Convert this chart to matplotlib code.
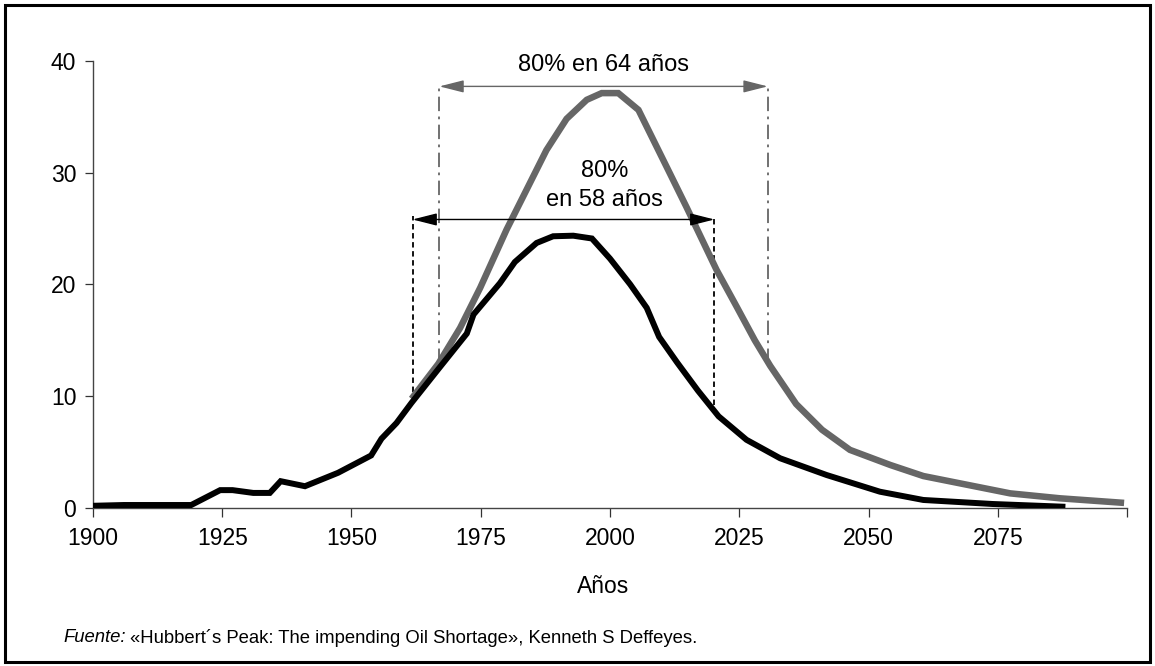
import matplotlib
matplotlib.use("Agg")
import matplotlib.pyplot as plt
from matplotlib.patches import Rectangle, ArrowStyle

plt.rcParams['font.family'] = ['Liberation Sans', 'DejaVu Sans']

# curva negra (datos reales / previsión)
years_black = [1900, 1906, 1919, 1924.6, 1927, 1931, 1934.2, 1936.3, 1941, 1947.4,
               1953.8, 1955.8, 1958.7, 1961.6, 1967.1, 1972.3, 1973.6, 1978.7, 1981.6,
               1985.8, 1989, 1992.9, 1996.5, 2000, 2003.9, 2007.1, 2009.5, 2013, 2017,
               2021, 2026.4, 2032.9, 2041.9, 2052.2, 2060.6, 2074, 2087.5]
vals_black = [0.2, 0.27, 0.27, 1.6, 1.6, 1.35, 1.35, 2.4, 1.95, 3.15,
              4.7, 6.2, 7.6, 9.4, 12.6, 15.6, 17.3, 20.1, 22.0,
              23.7, 24.3, 24.35, 24.1, 22.3, 20.0, 17.9, 15.3, 13.0, 10.5,
              8.2, 6.1, 4.45, 2.95, 1.46, 0.72, 0.36, 0.12]

# curva gris
years_gray = [1962, 1966.8, 1971, 1974.9, 1980, 1987.7, 1991.6, 1995.5, 1998.4, 2001.6,
              2005.5, 2011.6, 2014.8, 2020.6, 2024.5, 2028, 2031, 2036, 2041, 2046.4,
              2054.2, 2060.6, 2077.4, 2087, 2098.8]
vals_gray = [10.0, 12.9, 16.1, 19.7, 24.9, 32.0, 34.8, 36.5, 37.1, 37.1,
             35.6, 29.9, 26.9, 21.3, 18.0, 15.0, 12.7, 9.3, 7.0, 5.2,
             3.85, 2.86, 1.31, 0.87, 0.48]

xticks = [1900, 1925, 1950, 1975, 2000, 2025, 2050, 2075, 2100]
xtick_labels = ['1900', '1925', '1950', '1975', '2000', '2025', '2050', '2075', '']
yticks = [0, 10, 20, 30, 40]

# intervalos del 80 %
black_span = (1961.8, 2020.2)
gray_span = (1967.0, 2030.5)

gray = '#666666'

fig = plt.figure(figsize=(11.55, 6.66), dpi=100)
ax = fig.add_axes([0.0805, 0.2372, 0.8953, 0.6717])

ax.plot(years_gray, vals_gray, color=gray, lw=4.7, solid_joinstyle='miter', zorder=3)
ax.plot(years_black, vals_black, color='black', lw=4.3, solid_joinstyle='miter', zorder=4)

# líneas verticales
ax.plot([black_span[0]] * 2, [9.6, 26.1], color='black', lw=1.3, ls=(0, (3, 2)), zorder=2)
ax.plot([black_span[1]] * 2, [9.2, 26.1], color='black', lw=1.3, ls=(0, (3, 2)), zorder=2)
ax.plot([gray_span[0]] * 2, [13.0, 37.8], color=gray, lw=1.3, ls=(0, (8, 3, 1.5, 3)), zorder=2)
ax.plot([gray_span[1]] * 2, [13.0, 37.8], color=gray, lw=1.3, ls=(0, (8, 3, 1.5, 3)), zorder=2)

style = ArrowStyle('<|-|>', head_length=1.5, head_width=0.38)
ax.annotate('', xy=(gray_span[0], 37.7), xytext=(gray_span[1], 37.7),
            arrowprops=dict(arrowstyle=style, mutation_scale=10, color=gray, lw=1.0,
                            shrinkA=0, shrinkB=0))
ax.annotate('', xy=(black_span[0], 25.8), xytext=(black_span[1], 25.8),
            arrowprops=dict(arrowstyle=style, mutation_scale=10, color='black', lw=1.0,
                            shrinkA=0, shrinkB=0), zorder=5)

ax.text(1998.7, 39.6, '80% en 64 años', ha='center', va='center', fontsize=17)
ax.text(1998.9, 30.1, '80%', ha='center', va='center', fontsize=17)
ax.text(1999.0, 27.5, 'en 58 años', ha='center', va='center', fontsize=17)

ax.set_xlim(1900, 2100)
ax.set_ylim(0, 40)
ax.set_xticks(xticks)
ax.set_xticklabels(xtick_labels)
ax.set_yticks(yticks)

for s in ['top', 'right']:
    ax.spines[s].set_visible(False)
for s in ['left', 'bottom']:
    ax.spines[s].set_color('#444444')
    ax.spines[s].set_linewidth(1.0)

ax.tick_params(axis='x', direction='out', length=6.5, width=0.9, color='#333333',
               labelsize=16.5, pad=7)
ax.tick_params(axis='y', direction='out', length=6, width=0.9, color='#333333',
               labelsize=16.5, pad=6)

ax.set_xlabel('Años', fontsize=16.5)
ax.xaxis.set_label_coords((603.5 - 93) / 1034, -(586.7 - 508) / 447.3)
ax.xaxis.label.set_va('center')

# fuente
t1 = fig.text(63 / 1155, 1 - 638 / 666, 'Fuente:', fontsize=13.3, style='italic', va='center')
fig.canvas.draw()
bb = t1.get_window_extent(fig.canvas.get_renderer())
fig.text(bb.x1 / fig.bbox.width + 4 / 1155, 1 - 638 / 666,
         '«Hubbert´s Peak: The impending Oil Shortage», Kenneth S Deffeyes.',
         fontsize=13.3, va='center')

# marco
fig.add_artist(Rectangle((5 / 1155, 4 / 666), 1145 / 1155, 657 / 666,
                         transform=fig.transFigure, fill=False, lw=2.2,
                         edgecolor='black'))

fig.savefig('out.png', dpi=100)
